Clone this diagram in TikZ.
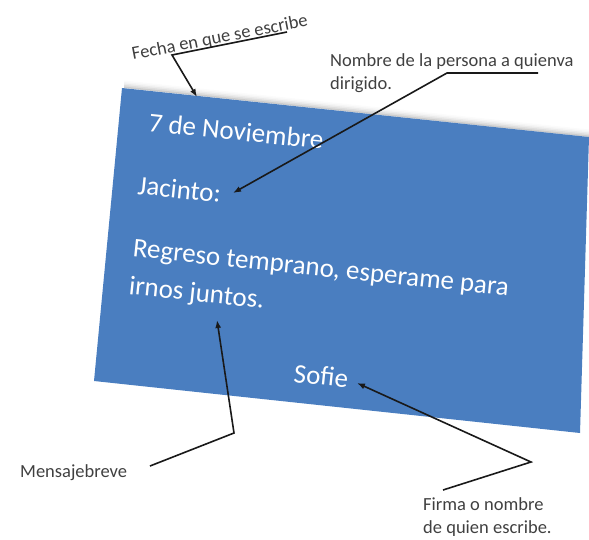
\documentclass[tikz,border=0pt]{standalone}
\usepackage{fontspec}
\setmainfont{Carlito}
\usetikzlibrary{arrows.meta}
\definecolor{cardblue}{RGB}{74,126,192}
\definecolor{labelgray}{RGB}{64,64,64}
\begin{document}
\begin{tikzpicture}[x=1pt,y=-1pt,
  cardtext/.style={text=white,font=\fontsize{27}{38}\selectfont,rotate=-6,anchor=base west,inner sep=0pt},
  labeltext/.style={text=labelgray,font=\fontsize{18.5}{23}\selectfont,inner sep=0pt},
  leader/.style={line width=1.6pt,draw=black!90},
  tip/.style={-{Latex[length=8pt,width=6pt]}}]
\useasboundingbox (0,0) rectangle (589,539);
% soft shadow above the top edge
\foreach \d/\o in {1.5/0.08,3/0.06,4.5/0.04,6/0.025,7.5/0.015}{
  \fill[black,opacity=\o] (124,88-\d) -- (589,137-\d) -- (589,137) -- (124,88) -- cycle;
}
% card
\fill[cardblue] (122,88) -- (589,137) -- (580,433) -- (94,381) -- cycle;
% card texts
\node[cardtext] (fecha) at (148,131) {7 de Noviembre};
\node[cardtext] (saludo) at (137,194) {Jacinto:};
\node[cardtext,anchor=north west,align=left] (mensaje) at (134,239) {Regreso temprano, esperame para\\irnos juntos.};
\node[cardtext] (firma) at (293,382) {Sofie};
% labels
\node[labeltext,rotate=11,anchor=base west] (lblfecha) at (133,60) {Fecha en que se escribe};
\node[labeltext,anchor=north west,align=left] (lblnombre) at (330,53) {Nombre de la persona a quienva\\dirigido.};
\node[labeltext,anchor=base west] (lblmensaje) at (20,477) {Mensajebreve};
\node[labeltext,anchor=north west,align=left] (lblfirma) at (423,497) {Firma o nombre\\de quien escribe.};
% leader coordinates
\coordinate (f1) at (287,32);
\coordinate (f2) at (172,55);
\coordinate (f3) at (197,97);
\coordinate (n1) at (538,73);
\coordinate (n2) at (447,73);
\coordinate (n3) at (233,193);
\coordinate (m1) at (150,466);
\coordinate (m2) at (234,433);
\coordinate (m3) at (217,320);
\coordinate (s1) at (443,490);
\coordinate (s2) at (531,462);
\coordinate (s3) at (357,383);
% leaders
\draw[leader,tip] (f1) -- (f2) -- (f3);
\draw[leader,tip] (n1) -- (n2) -- (n3);
\draw[leader,tip] (m1) -- (m2) -- (m3);
\draw[leader,tip] (s1) -- (s2) -- (s3);
\end{tikzpicture}
\end{document}
